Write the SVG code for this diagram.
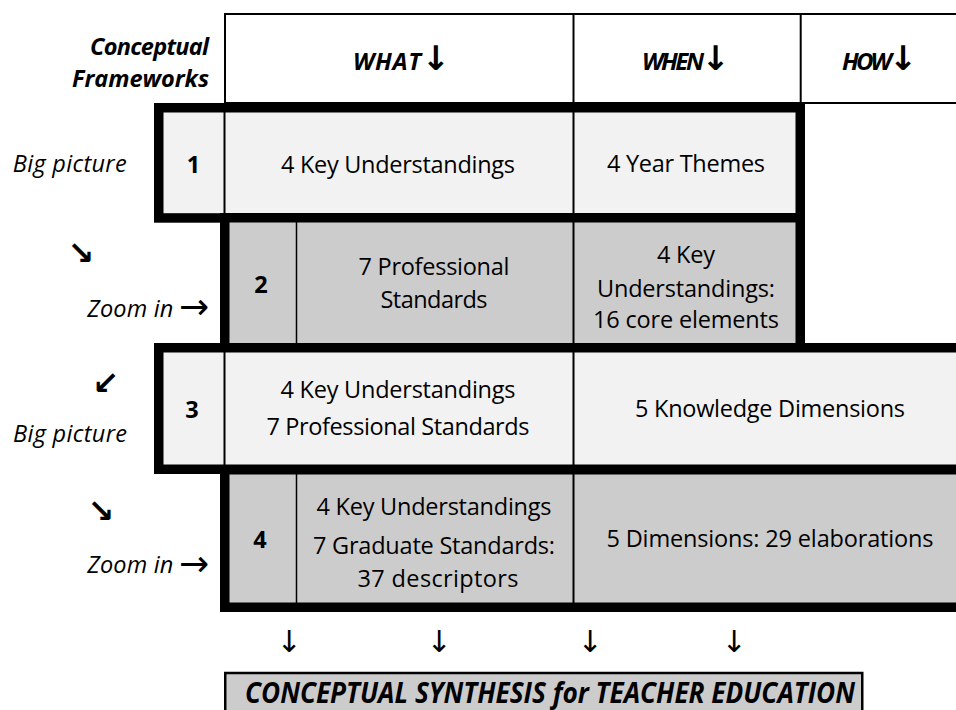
<svg xmlns="http://www.w3.org/2000/svg" width="956" height="710" viewBox="0 0 956 710">
<style>
.t{font-family:'Open Sans','Liberation Sans',sans-serif;font-size:23.5px;fill:#000;text-anchor:middle}
.b{font-weight:bold}
.i{font-style:italic}
.h{font-family:'Open Sans','Liberation Sans',sans-serif;font-size:24px;font-weight:bold;font-style:italic;fill:#000}
.ar{font-family:'DejaVu Sans',sans-serif;fill:#000;text-anchor:middle}
.hb{font-family:'DejaVu Sans',sans-serif;font-style:normal;font-weight:bold;font-size:34px}
.light{fill:#f2f2f2}
.dark{fill:#cccccc}
.thick{fill:none;stroke:#000;stroke-width:9.5}
.thin{stroke:#000;stroke-width:2}
.thin15{stroke:#000;stroke-width:1.5}
</style>
<rect x="0" y="0" width="956" height="710" fill="#fff"/>

<g id="header">
  <rect x="225" y="14" width="740" height="89" fill="#fff" stroke="#000" stroke-width="2"/>
  <line class="thin" x1="573.5" y1="14" x2="573.5" y2="103"/>
  <line class="thin" x1="800.7" y1="14" x2="800.7" y2="103"/>
  <text class="t b i" x="209" y="55" style="text-anchor:end" textLength="119">Conceptual</text>
  <text class="t b i" x="209" y="87" style="text-anchor:end" textLength="137">Frameworks</text>
  <text class="h" x="353" y="70"><tspan textLength="68">WHAT</tspan><tspan class="hb">↓</tspan></text>
  <text class="h" x="642" y="70"><tspan textLength="62">WHEN</tspan><tspan class="hb">↓</tspan></text>
  <text class="h" x="842" y="70"><tspan textLength="50">HOW</tspan><tspan class="hb">↓</tspan></text>
</g>

<g id="row1">
  <rect class="light" x="158.75" y="107.75" width="641.5" height="110.2"/>
  <line class="thin" x1="224.5" y1="112" x2="224.5" y2="213"/>
  <line class="thin" x1="573.5" y1="112" x2="573.5" y2="213"/>
  <rect class="thick" x="158.75" y="107.75" width="641.5" height="110.2"/>
  <text class="t b" x="193.5" y="173">1</text>
  <text class="t" x="398" y="173" textLength="234">4 Key Understandings</text>
  <text class="t" x="686" y="172" textLength="158">4 Year Themes</text>
</g>

<g id="row2">
  <rect class="dark" x="224.75" y="217.75" width="575.5" height="130.2"/>
  <line class="thin15" x1="296.5" y1="222" x2="296.5" y2="343"/>
  <line class="thin" x1="573.5" y1="222" x2="573.5" y2="343"/>
  <rect class="thick" x="224.75" y="217.75" width="575.5" height="130.2"/>
  <text class="t b" x="261" y="293">2</text>
  <text class="t" x="434" y="275" textLength="151">7 Professional</text>
  <text class="t" x="434" y="308" textLength="107">Standards</text>
  <text class="t" x="686" y="263" textLength="58">4 Key</text>
  <text class="t" x="686" y="297" textLength="178">Understandings:</text>
  <text class="t" x="686" y="328" textLength="186">16 core elements</text>
</g>

<g id="row3">
  <rect class="light" x="158.75" y="347.75" width="820" height="121.5"/>
  <line class="thin" x1="224.5" y1="352" x2="224.5" y2="465"/>
  <line class="thin" x1="573.5" y1="352" x2="573.5" y2="465"/>
  <rect class="thick" x="158.75" y="347.75" width="820" height="121.5"/>
  <text class="t b" x="192" y="418">3</text>
  <text class="t" x="398" y="397.5" textLength="235">4 Key Understandings</text>
  <text class="t" x="398" y="435" textLength="263">7 Professional Standards</text>
  <text class="t" x="770" y="417" textLength="270">5 Knowledge Dimensions</text>
</g>

<g id="row4">
  <rect class="dark" x="224.75" y="469.75" width="760" height="137.5"/>
  <line class="thin15" x1="296.5" y1="474" x2="296.5" y2="603"/>
  <line class="thin" x1="573.5" y1="474" x2="573.5" y2="603"/>
  <rect class="thick" x="224.75" y="469.75" width="760" height="137.5"/>
  <text class="t b" x="260" y="548">4</text>
  <text class="t" x="434" y="515" textLength="235">4 Key Understandings</text>
  <text class="t" x="434" y="554" textLength="242">7 Graduate Standards:</text>
  <text class="t" x="438" y="586.5" textLength="161">37 descriptors</text>
  <text class="t" x="770" y="546.5" textLength="327">5 Dimensions: 29 elaborations</text>
</g>

<g id="side-labels">
  <text class="t i" x="12.7" y="172" style="text-anchor:start" textLength="114">Big picture</text>
  <text class="ar" x="81" y="264" font-size="32" font-weight="bold">↘</text>
  <text class="t i" x="87.3" y="316.5" style="text-anchor:start" textLength="86">Zoom in</text>
  <text class="ar" x="194" y="319" font-size="36">→</text>
  <text class="ar" x="106" y="394" font-size="32" font-weight="bold">↙</text>
  <text class="t i" x="13" y="441.5" style="text-anchor:start" textLength="114">Big picture</text>
  <text class="ar" x="101" y="522" font-size="32" font-weight="bold">↘</text>
  <text class="t i" x="87.3" y="573" style="text-anchor:start" textLength="86">Zoom in</text>
  <text class="ar" x="194" y="576" font-size="36">→</text>
</g>

<g id="connectors">
  <text class="ar" x="289" y="652" font-size="30">↓</text>
  <text class="ar" x="439" y="652" font-size="30">↓</text>
  <text class="ar" x="590" y="652" font-size="30">↓</text>
  <text class="ar" x="734" y="652" font-size="30">↓</text>
</g>

<g id="synthesis">
  <rect x="225.25" y="673" width="637" height="60" fill="#cccccc" stroke="#000" stroke-width="2.5"/>
  <text class="t b i" x="550" y="703" style="font-size:29px" textLength="610" lengthAdjust="spacingAndGlyphs">CONCEPTUAL SYNTHESIS for TEACHER EDUCATION</text>
</g>
</svg>
